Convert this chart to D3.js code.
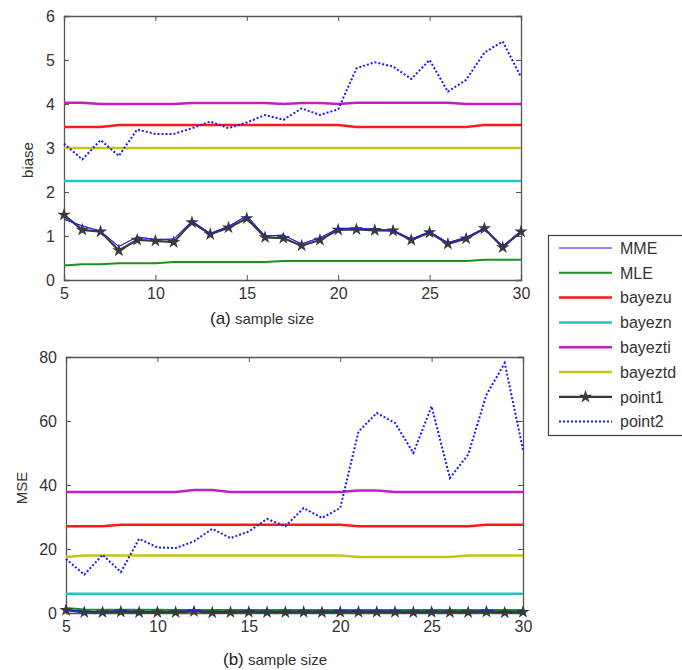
<!DOCTYPE html>
<html>
<head>
<meta charset="utf-8">
<script src="https://cdn.jsdelivr.net/npm/d3@7"></script>
<style>
  body { margin: 0; background: #fff; }
  text { font-family: "Liberation Sans", Arial, sans-serif; fill: #333; }
</style>
</head>
<body>
<div id="chart"></div>
<script>
// sample sizes
const sizes = [5,6,7,8,9,10,11,12,13,14,15,16,17,18,19,20,21,22,23,24,25,26,27,28,29,30];

// (a) biase
const biasMME    = [1.38,1.23,1.11,0.76,0.98,0.92,0.93,1.34,1.06,1.22,1.46,1.00,1.02,0.82,0.96,1.17,1.18,1.15,1.13,0.93,1.10,0.85,0.97,1.18,0.77,1.12];
const biasMLE    = [0.33,0.36,0.36,0.38,0.38,0.38,0.41,0.41,0.41,0.41,0.41,0.41,0.43,0.43,0.43,0.43,0.43,0.43,0.43,0.43,0.43,0.43,0.43,0.46,0.46,0.46];
const biasZU     = [3.48,3.48,3.48,3.52,3.52,3.52,3.52,3.52,3.52,3.52,3.52,3.52,3.52,3.52,3.52,3.52,3.48,3.48,3.48,3.48,3.48,3.48,3.48,3.52,3.52,3.52];
const biasZN     = [2.25,2.25,2.25,2.25,2.25,2.25,2.25,2.25,2.25,2.25,2.25,2.25,2.25,2.25,2.25,2.25,2.25,2.25,2.25,2.25,2.25,2.25,2.25,2.25,2.25,2.25];
const biasZTI    = [4.03,4.03,4.00,4.00,4.00,4.00,4.00,4.02,4.02,4.02,4.02,4.02,4.00,4.02,4.02,4.00,4.03,4.03,4.03,4.03,4.03,4.03,4.00,4.00,4.00,4.00];
const biasZTD    = [3.00,3.00,3.00,3.00,3.00,3.00,3.00,3.00,3.00,3.00,3.00,3.00,3.00,3.00,3.00,3.00,3.00,3.00,3.00,3.00,3.00,3.00,3.00,3.00,3.00,3.00];
const biasPoint1 = [1.48,1.14,1.10,0.67,0.91,0.89,0.86,1.31,1.04,1.19,1.40,0.97,0.95,0.78,0.91,1.14,1.15,1.13,1.12,0.91,1.08,0.82,0.94,1.17,0.74,1.10];
const biasPoint2 = [3.10,2.74,3.18,2.82,3.42,3.32,3.32,3.45,3.60,3.45,3.58,3.75,3.64,3.90,3.75,3.88,4.81,4.95,4.85,4.57,5.00,4.28,4.55,5.17,5.42,4.61];

// (b) MSE
const mseMME    = [1.1,0.5,0.5,0.7,0.5,0.5,0.5,0.8,0.4,0.5,0.6,0.5,0.5,0.6,0.5,0.6,0.6,0.6,0.6,0.5,0.6,0.5,0.5,0.7,0.4,0.6];
const mseMLE    = [1.6,1.1,1.0,1.0,1.0,1.0,0.9,0.9,0.9,0.9,0.9,0.9,0.9,0.9,0.9,0.9,0.9,0.9,0.9,0.9,0.9,0.9,0.9,0.9,0.9,0.9];
const mseZU     = [27.1,27.1,27.1,27.6,27.6,27.6,27.6,27.6,27.6,27.6,27.6,27.6,27.6,27.6,27.6,27.6,27.1,27.1,27.1,27.1,27.1,27.1,27.1,27.6,27.6,27.6];
const mseZN     = [6.0,6.0,6.0,6.0,6.0,6.0,6.0,6.0,6.0,6.0,6.0,6.0,6.0,6.0,6.0,6.0,6.0,6.0,6.0,6.0,6.0,6.0,6.0,6.0,6.0,6.0];
const mseZTI    = [37.8,37.8,37.8,37.8,37.8,37.8,37.8,38.4,38.4,37.8,37.8,37.8,37.8,37.8,37.8,37.8,38.3,38.3,37.8,37.8,37.8,37.8,37.8,37.8,37.8,37.8];
const mseZTD    = [17.5,18.0,18.0,18.0,18.0,18.0,18.0,18.0,18.0,18.0,18.0,18.0,18.0,18.0,18.0,18.0,17.5,17.5,17.5,17.5,17.5,17.5,18.0,18.0,18.0,18.0];
const msePoint1 = [0.9,0.2,0.2,0.4,0.2,0.2,0.2,0.5,0.1,0.2,0.3,0.2,0.2,0.3,0.2,0.3,0.3,0.3,0.3,0.2,0.3,0.2,0.2,0.4,0.1,0.3];
const msePoint2 = [16.9,12.0,18.2,12.8,23.2,20.5,20.3,22.4,26.3,23.4,25.5,29.4,27.1,32.8,29.7,32.8,56.7,62.5,59.4,50.0,64.6,42.2,49.5,68.2,78.1,51.0];

const seriesNames = ["MME","MLE","bayezu","bayezn","bayezti","bayeztd","point1","point2"];
const biasTicks = [0,1,2,3,4,5,6];
const mseTicks = [0,20,40,60,80];
const sizeTicks = [5,10,15,20,25,30];

const styles = {
  MME:     {color: "#1a1aff", width: 1},
  MLE:     {color: "#1f8f1f", width: 2},
  bayezu:  {color: "#ff1a1a", width: 2.5},
  bayezn:  {color: "#22c4c4", width: 2.5},
  bayezti: {color: "#c21fc2", width: 2.5},
  bayeztd: {color: "#c4c41a", width: 2.5},
  point1:  {color: "#3a3a3a", width: 2.2},
  point2:  {color: "#1a1aff", width: 2, dash: "2,2"}
};

const svg = d3.select("#chart").append("svg")
  .attr("width", 682).attr("height", 670);

function panel(box, yMax, yTicks, data) {
  const x = d3.scaleLinear().domain([5,30]).range([box.left, box.right]);
  const y = d3.scaleLinear().domain([0,yMax]).range([box.bottom, box.top]);
  const g = svg.append("g");

  // axes: ticks inward on all four sides (matlab box)
  g.append("g").attr("transform", `translate(0,${box.bottom})`)
    .call(d3.axisBottom(x).tickValues(sizeTicks).tickSize(-5).tickPadding(8).tickFormat(d3.format("d")));
  g.append("g").attr("transform", `translate(0,${box.top})`)
    .call(d3.axisTop(x).tickValues(sizeTicks).tickSize(-5).tickFormat(""));
  g.append("g").attr("transform", `translate(${box.left},0)`)
    .call(d3.axisLeft(y).tickValues(yTicks).tickSize(-5).tickPadding(9).tickFormat(d3.format("d")));
  g.append("g").attr("transform", `translate(${box.right},0)`)
    .call(d3.axisRight(y).tickValues(yTicks).tickSize(-5).tickFormat(""));
  g.selectAll(".domain").attr("stroke", "#555").attr("stroke-width", 1.3);
  g.selectAll(".tick line").attr("stroke", "#555");
  g.selectAll(".tick text").style("font-size", "16px").attr("fill", "#333")
    .style("font-family", "'Liberation Sans', Arial, sans-serif");

  const line = d3.line().x((d, i) => x(sizes[i])).y(d => y(d));

  seriesNames.forEach(name => {
    const s = styles[name];
    g.append("path")
      .datum(data[name])
      .attr("fill", "none")
      .attr("stroke", s.color)
      .attr("stroke-width", s.width)
      .attr("stroke-dasharray", s.dash || null)
      .attr("d", line);
    if (name === "point1") {
      g.selectAll(null).data(data[name]).enter().append("path")
        .attr("d", d3.symbol(d3.symbolStar, 55))
        .attr("transform", (d, i) => `translate(${x(sizes[i])},${y(d)})`)
        .attr("fill", "#3a3a3a");
    }
  });
  // thin MME line again on top of point1, as in the reference
  g.append("path")
    .datum(data.MME)
    .attr("fill", "none").attr("stroke", styles.MME.color)
    .attr("stroke-width", 0.9)
    .attr("d", line);
}

panel({left: 64, right: 521, top: 16, bottom: 280}, 6, biasTicks, {
  MME: biasMME, MLE: biasMLE, bayezu: biasZU, bayezn: biasZN,
  bayezti: biasZTI, bayeztd: biasZTD, point1: biasPoint1, point2: biasPoint2
});
panel({left: 66, right: 523, top: 357, bottom: 613}, 80, mseTicks, {
  MME: mseMME, MLE: mseMLE, bayezu: mseZU, bayezn: mseZN,
  bayezti: mseZTI, bayeztd: mseZTD, point1: msePoint1, point2: msePoint2
});

// axis titles
svg.append("text").attr("transform", "translate(33,160) rotate(-90)")
  .attr("text-anchor", "middle").style("font-size", "15px").text("biase");
svg.append("text").attr("transform", "translate(27,488) rotate(-90)")
  .attr("text-anchor", "middle").style("font-size", "15px").text("MSE");

const capA = svg.append("text").attr("x", 210).attr("y", 324).style("font-size", "15px");
capA.append("tspan").style("font-size", "17px").attr("fill", "#222").text("(a)");
capA.append("tspan").text(" sample size");
const capB = svg.append("text").attr("x", 223).attr("y", 665).style("font-size", "15px");
capB.append("tspan").style("font-size", "17px").attr("fill", "#222").text("(b)");
capB.append("tspan").text(" sample size");

// legend
const leg = svg.append("g");
leg.append("rect").attr("x", 548.5).attr("y", 235.5).attr("width", 160).attr("height", 200)
  .attr("fill", "#fff").attr("stroke", "#444").attr("stroke-width", 1.2);
seriesNames.forEach((name, i) => {
  const s = styles[name];
  const yy = 248 + i * 24.8;
  leg.append("line").attr("x1", 559).attr("x2", 612).attr("y1", yy).attr("y2", yy)
    .attr("stroke", s.color).attr("stroke-width", name === "MME" ? 1.2 : s.width)
    .attr("stroke-dasharray", s.dash || null);
  if (name === "point1") {
    leg.append("path").attr("d", d3.symbol(d3.symbolStar, 55))
      .attr("transform", `translate(585.5,${yy})`).attr("fill", "#3a3a3a");
  }
  leg.append("text").attr("x", 620).attr("y", yy).attr("dy", "0.36em")
    .style("font-size", "16px").attr("fill", "#222").text(name);
});
</script>
</body>
</html>
